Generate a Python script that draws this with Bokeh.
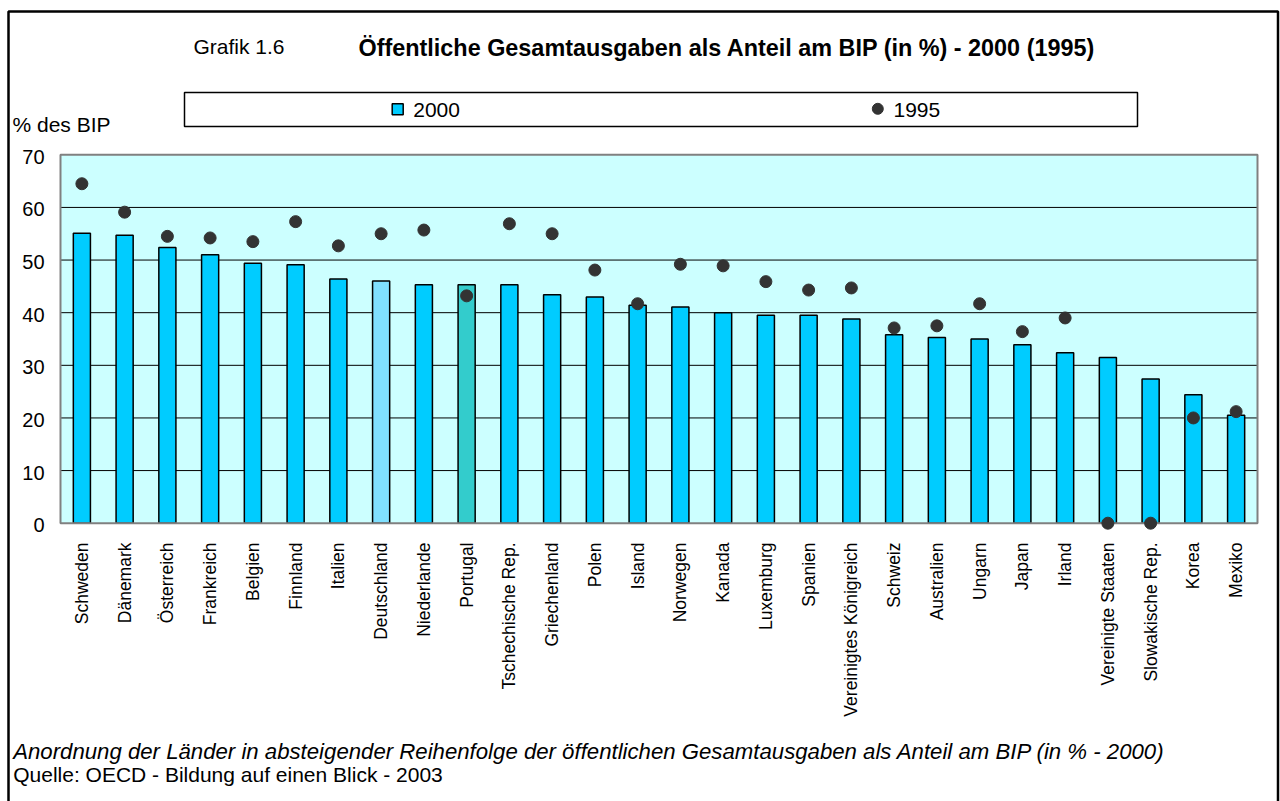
import math
from bokeh.plotting import figure
from bokeh.models import Range1d, ColumnDataSource
from bokeh.core.properties import value
from bokeh.embed import file_html
from bokeh.resources import INLINE

# ---------------- data ----------------
countries = ["Schweden", "Dänemark", "Österreich", "Frankreich", "Belgien", "Finnland",
             "Italien", "Deutschland", "Niederlande", "Portugal", "Tschechische Rep.",
             "Griechenland", "Polen", "Island", "Norwegen", "Kanada", "Luxemburg",
             "Spanien", "Vereinigtes Königreich", "Schweiz", "Australien", "Ungarn",
             "Japan", "Irland", "Vereinigte Staaten", "Slowakische Rep.", "Korea", "Mexiko"]
values_2000 = [55.1, 54.7, 52.4, 51.0, 49.4, 49.1, 46.4, 46.0, 45.3, 45.3, 45.3, 43.4,
               43.0, 41.4, 41.1, 40.0, 39.5, 39.5, 38.8, 35.8, 35.3, 35.0, 33.9, 32.4,
               31.5, 27.4, 24.4, 20.5]
values_1995 = [64.5, 59.1, 54.5, 54.2, 53.5, 57.3, 52.7, 55.0, 55.7, 43.2, 56.9, 55.0,
               48.1, 41.7, 49.2, 48.9, 45.9, 44.3, 44.7, 37.1, 37.5, 41.7, 36.4, 39.0,
               0.0, 0.0, 20.0, 21.2]
y_ticks = [0, 10, 20, 30, 40, 50, 60, 70]
y_max = 70

# ---------------- styles / layout ----------------
BAR = "#00CCFF"
DOT = "#333333"
highlight = {"Deutschland": "#80E0FF", "Portugal": "#33CCCC"}
colors = [highlight.get(c, BAR) for c in countries]
FONT = "Liberation Sans"
W, H = 1280, 801
BASE_SHIFT = 8.0  # renderer places alphabetic baseline lower than nominal

# plot region on the page (pixels)
PL, PR, PT, PB = 60.0, 1257.0, 154.3, 522.7
n = len(countries)
sx = n / (PR - PL)          # data units per px (x)
sy = y_max / (PB - PT)      # data units per px (y)


def X(px):
    return (px - PL) * sx


def Y(py):
    return (PB - py) * sy


p = figure(width=W, height=H, output_backend="svg", toolbar_location=None,
           x_range=Range1d(X(0), X(W)), y_range=Range1d(Y(H), Y(0)),
           min_border=0, min_border_left=0, min_border_right=0,
           min_border_top=0, min_border_bottom=0,
           background_fill_color="white", border_fill_color="white")
p.axis.visible = False
p.grid.visible = False
p.outline_line_color = None

positions = [i + 0.5 for i in range(n)]
src = ColumnDataSource(dict(x=positions, c=countries, v2000=values_2000,
                            v1995=values_1995, col=colors))

# outer frame (left, top, right)
p.line(x=[X(8), X(8), X(1277.5), X(1277.5)], y=[Y(H + 5), Y(11), Y(11), Y(H + 5)],
       line_color="black", line_width=2.5)

# plot area background
p.quad(left=[0], right=[n], bottom=[0], top=[y_max], fill_color="#CCFFFF", line_color=None)
# horizontal grid lines
inner = [t for t in y_ticks if 0 < t < y_max]
p.segment(x0=[0] * len(inner), x1=[n] * len(inner), y0=inner, y1=inner,
          line_color="black", line_width=1)

# bars (2000)
p.vbar(x="x", top="v2000", bottom=0, width=0.4, source=src, fill_color="col",
       line_color="black", line_width=1.5)
# plot area border
p.quad(left=[0], right=[n], bottom=[0], top=[y_max], fill_alpha=0,
       line_color="#808080", line_width=2)
# dots (1995)
p.scatter(x="x", y="v1995", source=src, size=12, marker="circle",
          fill_color=DOT, line_color=DOT)

# y tick labels
p.text(x=[X(44)] * len(y_ticks), y=[t - 2.0 * sy for t in y_ticks],
       text=[str(t) for t in y_ticks], text_font=value(FONT), text_font_size="20px",
       text_align="right", text_baseline="middle", text_color="black")

# x category labels (vertical, reading upwards)
p.text(x="x", y=Y(542), text="c", source=src, angle=math.pi / 2,
       text_font=value(FONT), text_font_size="17.5px", text_align="right",
       text_baseline="middle", text_color="black")


def lab(text, px, py, size, style="normal"):
    p.text(x=[X(px)], y=[Y(py - BASE_SHIFT)], text=[text], text_font=value(FONT),
           text_font_size=size, text_font_style=style, text_color="black",
           text_align="left", text_baseline="alphabetic")


lab("Grafik 1.6", 193, 53.5, "21px")
lab("Öffentliche Gesamtausgaben als Anteil am BIP (in %) - 2000 (1995)", 358, 55.5,
    "23.4px", "bold")

# legend box
p.quad(left=[X(184)], right=[X(1137)], top=[Y(92)], bottom=[Y(126)],
       fill_color="white", line_color="black", line_width=1.5)
p.scatter(x=[X(397.2)], y=[Y(108.8)], marker="square", size=11,
          fill_color=BAR, line_color="black", line_width=1.5)
lab("2000", 412.7, 117.3, "21px")
p.scatter(x=[X(877.3)], y=[Y(108.3)], marker="circle", size=11,
          fill_color=DOT, line_color=DOT)
lab("1995", 893, 117.3, "21px")

lab("% des BIP", 12, 131.7, "21px")
lab("Anordnung der Länder in absteigender Reihenfolge der öffentlichen Gesamtausgaben "
    "als Anteil am BIP (in % - 2000)", 12.7, 759, "22.2px", "italic")
lab("Quelle: OECD - Bildung auf einen Blick - 2003", 12.7, 782, "21px")

open("out.html", "w").write(file_html(p, INLINE))
